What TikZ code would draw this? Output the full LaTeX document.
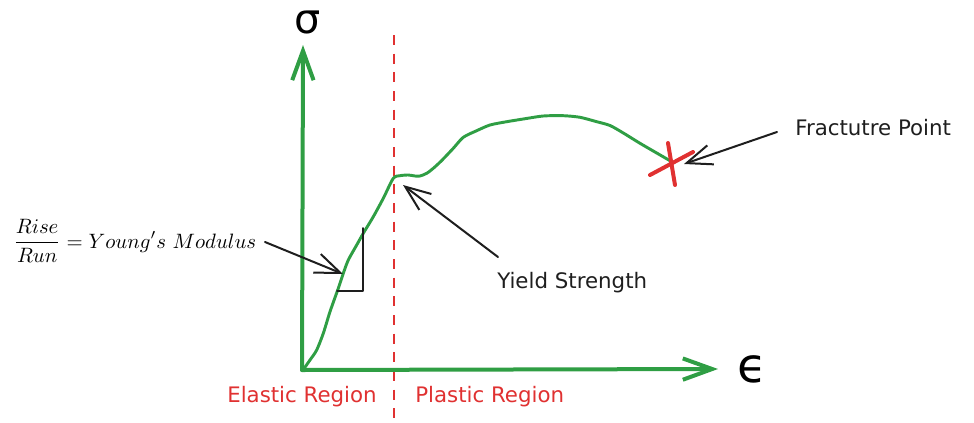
\documentclass[tikz,border=0pt]{standalone}
\usepackage{fontspec}
\setmainfont{DejaVu Sans}
\usetikzlibrary{arrows.meta}
\definecolor{exgreen}{HTML}{2F9E44}
\definecolor{exred}{HTML}{E03131}
\definecolor{exblack}{HTML}{1E1E1E}
\tikzset{
  axisline/.style={exgreen, line width=3pt, line cap=round, line join=round,
    -{Straight Barb[length=22pt,width=16pt,line width=3pt]}},
  curveline/.style={exgreen, line width=2.2pt, line cap=round, line join=round},
  dividerline/.style={exred, line width=2pt, dash pattern=on 7.5pt off 6.5pt},
  xmarkline/.style={exred, line width=3pt, line cap=round},
  pointer/.style={exblack, line width=1.5pt, line cap=round, line join=round,
    -{Straight Barb[length=19pt,width=15pt,line width=1.5pt]}},
  plainline/.style={exblack, line width=1.5pt, line cap=round, line join=round},
  lbl/.style={inner sep=0pt, text=exblack, font=\fontsize{16}{19}\selectfont},
  redlbl/.style={inner sep=0pt, text=exred, font=\fontsize{16}{19}\selectfont},
  greeklbl/.style={inner sep=0pt, text=black},
}
\begin{document}
\begin{tikzpicture}[x=0.75pt,y=-0.75pt]
\useasboundingbox (0,0) rectangle (974,422);
% divider
\coordinate (dtop) at (394,35);
\coordinate (dbot) at (394,422);
\draw[dividerline] (dtop) -- (dbot);
% axes
\coordinate (O) at (302,370);
\coordinate (ytip) at (303,45);
\coordinate (xtip) at (718,369);
\draw[axisline] (O) -- (ytip);
\draw[axisline] (O) -- (xtip);
\node[greeklbl, font=\fontsize{31}{34}\selectfont] (sigma) at (308,22) {σ};
\node[greeklbl, font=\fontsize{36}{40}\selectfont] (eps) at (752,369) {ϵ};
% stress-strain curve
\draw[curveline] plot[smooth, tension=0.45] coordinates {
  (303,370) (310,360) (316.7,350) (323.3,333.3) (330,311.7) (338.3,288.3)
  (343.3,273.3) (348.3,260) (356.7,245) (363.3,233.3) (373.3,216.7)
  (383.3,198.3) (393.3,178.3) (400,175.7) (408.3,175) (415,176) (420,176)
  (426.7,173.3) (433.3,168.3) (441.7,160.5) (453.3,148.3) (463.3,137.3)
  (476.7,130.7) (490,125) (506.7,121.7) (523.3,119) (543.3,116) (563.3,115.7)
  (580,117.3) (596.7,121.7) (610,125.5) (623.3,133) (640,143.3) (656.7,153)
  (671.7,161.7)};
% fracture mark
\coordinate (fxa) at (650,175);
\coordinate (fxb) at (693,152);
\coordinate (fxc) at (668,143);
\coordinate (fxd) at (675,185);
\draw[xmarkline] (fxa) -- (fxb);
\draw[xmarkline] (fxc) -- (fxd);
% slope triangle
\coordinate (ta) at (337,291);
\coordinate (tb) at (363,291);
\coordinate (tc) at (363,228);
\draw[plainline] (ta) -- (tb) -- (tc);
% labels
\node[lbl, anchor=base west] (fp) at (795,135) {Fractutre Point};
\node[lbl, anchor=base west] (ys) at (497,288) {Yield Strength};
\node[redlbl, anchor=base west] (el) at (227,402) {Elastic Region};
\node[redlbl, anchor=base west] (pl) at (415,402) {Plastic Region};
\node[inner sep=0pt, anchor=base west, text=black, scale=1.56, transform shape] (ym) at (13,248)
  {\fontsize{10}{12}\selectfont $\displaystyle\frac{Rise}{Run} = Young's\ Modulus$};
% pointers
\coordinate (fpstart) at (777,132);
\coordinate (fptip) at (684,164);
\draw[pointer] (fpstart) -- (fptip);
\coordinate (ysstart) at (498,257);
\coordinate (ystip) at (403,185);
\draw[pointer] (ysstart) -- (ystip);
\coordinate (ymstart) at (265,242);
\coordinate (ymtip) at (343,274);
\draw[pointer] (ymstart) -- (ymtip);
\end{tikzpicture}
\end{document}
